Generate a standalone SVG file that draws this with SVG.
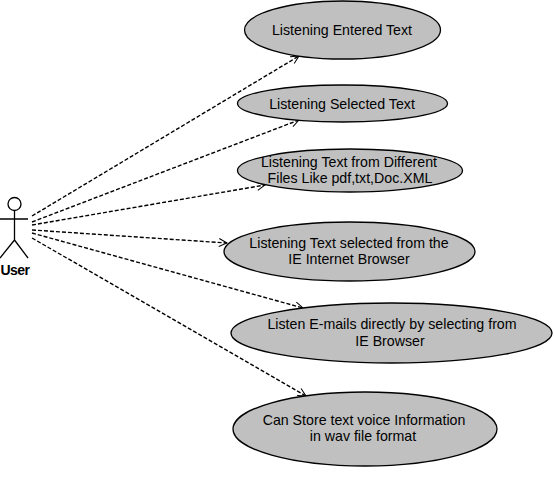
<svg xmlns="http://www.w3.org/2000/svg" width="554" height="490" viewBox="0 0 554 490">
<style>
.uc{fill:#c0c0c0;stroke:#000;stroke-width:1.3}
.t{font-family:"Liberation Sans",Arial,sans-serif;font-size:14.2px;fill:#000;text-anchor:middle}
.a{fill:none;stroke:#000;stroke-width:1.3}
.c{fill:none;stroke:#000;stroke-width:1.4;stroke-dasharray:4 2;marker-end:url(#h)}
</style>
<defs><marker id="h" markerUnits="userSpaceOnUse" markerWidth="12" markerHeight="12" refX="9" refY="5" orient="auto"><path d="M1 1L9 5L1 9" fill="none" stroke="#000" stroke-width="1"/></marker></defs>
<g id="connectors">
<path class="c" d="M32 216L299 56"/>
<path class="c" d="M32 222L299 120"/>
<path class="c" d="M32 225L265 185"/>
<path class="c" d="M32 230L227 243"/>
<path class="c" d="M32 233L303 308"/>
<path class="c" d="M32 238L306 396"/>
</g>
<g id="user">
<circle class="a" cx="14.500" cy="204" r="6.500"/>
<path class="a" d="M14.500 210.500V240M0 219H28M14.500 240L0 258M14.500 240L28 258"/>
<text x="15" y="275" style="font-family:'Liberation Sans',Arial,sans-serif;font-size:14px;font-weight:bold;text-anchor:middle;letter-spacing:-0.5px">User</text>
</g>
<g id="uc1"><ellipse class="uc" cx="342.500" cy="30" rx="98" ry="29"/><text class="t" x="342" y="35">Listening Entered Text</text></g>
<g id="uc2"><ellipse class="uc" cx="342.500" cy="103.500" rx="105" ry="18.500"/><text class="t" x="342" y="109">Listening Selected Text</text></g>
<g id="uc3"><ellipse class="uc" cx="350" cy="170.500" rx="112.500" ry="21.500"/><text class="t" x="349" y="167">Listening Text from Different</text><text class="t" x="350" y="183">Files Like pdf,txt,Doc.XML</text></g>
<g id="uc4"><ellipse class="uc" cx="349.500" cy="251.500" rx="125.500" ry="29.500"/><text class="t" x="349" y="248">Listening Text selected from the</text><text class="t" x="349" y="264">IE Internet Browser</text></g>
<g id="uc5"><ellipse class="uc" cx="391.500" cy="333" rx="160.500" ry="30"/><text class="t" x="392" y="329">Listen E-mails directly by selecting from</text><text class="t" x="390" y="346">IE Browser</text></g>
<g id="uc6"><ellipse class="uc" cx="365" cy="429" rx="132" ry="37"/><text class="t" x="364" y="425">Can Store text voice Information</text><text class="t" x="363" y="441">in wav file format</text></g>
</svg>
